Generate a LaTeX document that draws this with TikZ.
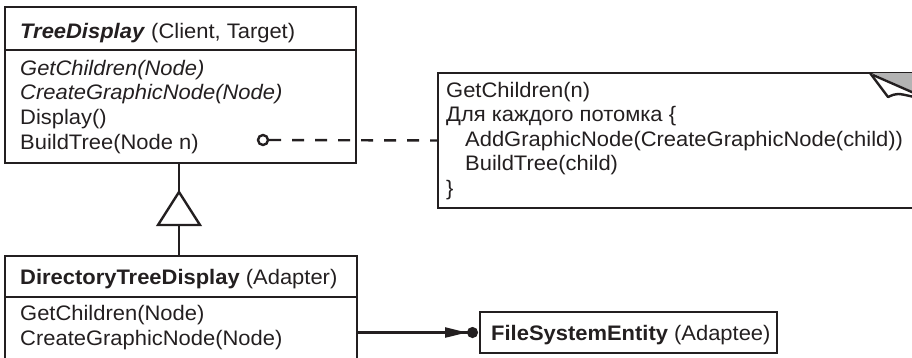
\documentclass[tikz,border=0pt]{standalone}
\usepackage{fontspec}
\setmainfont{Liberation Sans}[FakeStretch=1.045]
\usetikzlibrary{arrows.meta}
\definecolor{ink}{HTML}{231F20}
\definecolor{curl}{HTML}{B3B3B3}
\begin{document}
\begin{tikzpicture}[x=1pt,y=-1pt,
  box/.style={draw=ink, line width=2.4pt, rectangle, inner sep=0pt, outer sep=0pt, anchor=north west},
  txt/.style={anchor=base west, inner sep=0pt, text=ink, font=\fontsize{21}{24}\selectfont},
  ln/.style={draw=ink, line width=2.4pt},
  dashline/.style={draw=ink, line width=2.4pt, dash pattern=on 12pt off 11pt},
  pinc/.style={circle, draw=ink, fill=white, line width=2.4pt, minimum size=10pt, inner sep=0pt},
  assoc/.style={draw=ink, line width=2.4pt, -{Triangle[length=22pt,width=10pt]Circle[length=11pt,width=11pt]}, shorten >=2pt},
  gen/.style={draw=ink, fill=white, line width=2.4pt, line join=miter}
]
\useasboundingbox (0,0) rectangle (912,357);
\clip (0,0) rectangle (912,357);

% TreeDisplay
\node[box, minimum width=351pt, minimum height=43pt] (tdh) at (5,7) {};
\node[box, minimum width=351pt, minimum height=113pt] (tdb) at (5,50) {};
\node[txt] (tdt) at (20,38) {\textbf{\textit{TreeDisplay}} (Client, Target)};
\node[txt] (td1) at (20,75) {\textit{GetChildren(Node)}};
\node[txt] (td2) at (20,99.7) {\textit{CreateGraphicNode(Node)}};
\node[txt] (td3) at (20,124.4) {Display()};
\node[txt] (td4) at (20,149) {BuildTree(Node n)};

% DirectoryTreeDisplay
\node[box, minimum width=352pt, minimum height=41pt] (dth) at (5,256) {};
\node[box, minimum width=352pt, minimum height=80pt] (dtb) at (5,297) {};
\node[txt] (dtt) at (20,284) {\textbf{DirectoryTreeDisplay} (Adapter)};
\node[txt] (dt1) at (20,320) {GetChildren(Node)};
\node[txt] (dt2) at (20,345) {CreateGraphicNode(Node)};

% FileSystemEntity
\node[box, minimum width=297pt, minimum height=41pt] (fse) at (480,312) {};
\node[txt] (fset) at (491,340) {\textbf{FileSystemEntity} (Adaptee)};

% Note
\node[box, fill=white, minimum width=478pt, minimum height=135pt] (note) at (438,73) {};
\node[txt] (n1) at (446,97) {GetChildren(n)};
\node[txt] (n2) at (446,121.6) {Для каждого потомка \{};
\node[txt] (n3) at (465,146.2) {AddGraphicNode(CreateGraphicNode(child))};
\node[txt] (n4) at (465,170.8) {BuildTree(child)};
\node[txt] (n5) at (446,195.4) {\}};
% page curl
\fill[curl] (872,73) -- (914,73) -- (914,92) -- cycle;
\draw[ln, line join=round] (870,73) -- (888,97) .. controls (897,93) .. (914,97);
\draw[ln] (873,75) -- (914,93);

% note link
\node[pinc] (pin) at (263,140) {};
\draw[dashline] (pin.east) -- (note.west);

% generalization
\coordinate (apex) at (179,192);
\coordinate (basec) at (179,225);
\draw[ln] (tdb.south -| apex) -- (apex);
\draw[gen] (apex) -- (200,225) -- (158,225) -- cycle;
\draw[ln] (basec) -- (dth.north -| basec);

% association
\draw[assoc] (dtb.east |- fse.west) -- (fse.west);
\end{tikzpicture}
\end{document}
